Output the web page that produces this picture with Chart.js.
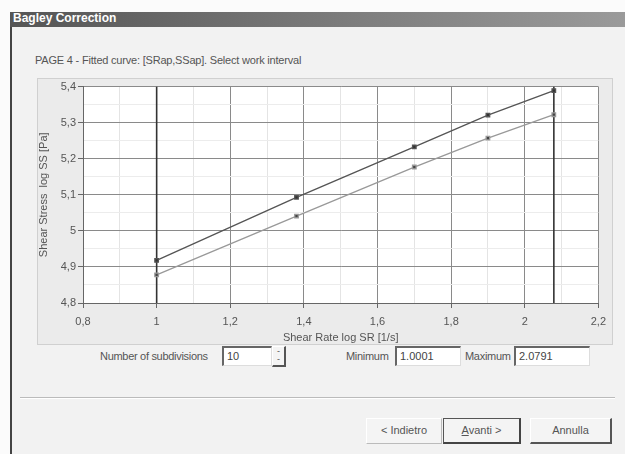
<!DOCTYPE html>
<html>
<head>
<meta charset="utf-8">
<script src="https://cdn.jsdelivr.net/npm/chart.js@4/dist/chart.umd.min.js"></script>
<style>
  body { margin: 0; width: 625px; height: 454px; background: #fbfbfb; font-family: "Liberation Sans", Arial, sans-serif; overflow: hidden; }
  #win { position: absolute; left: 10px; top: 12px; width: 615px; height: 442px; background: #f2f2f2; border-left: 2px solid #444; }
  #title { position: absolute; left: 10px; top: 12px; width: 615px; height: 15px; background: linear-gradient(to right, #555, #808080 60%, #9a9a9a); color: #fff; font-weight: bold; font-size: 12px; line-height: 12px; padding-left: 3px; box-sizing: border-box; }
  #page { position: absolute; left: 35px; top: 54px; font-size: 11px; color: #555; letter-spacing: -0.2px; }
  #panel { position: absolute; left: 37px; top: 78px; width: 576px; height: 267px; background: #ebebeb; border: 1px solid #d0d0d0; box-sizing: border-box; }
  #chart { position: absolute; left: 37px; top: 78px; }
  .lbl { position: absolute; font-size: 11px; color: #555; letter-spacing: -0.3px; }
  .inp { position: absolute; height: 20px; background: #fff; border-top: 2px solid #666; border-left: 2px solid #666; border-right: 1px solid #ddd; border-bottom: 1px solid #ddd; box-sizing: border-box; font-size: 11px; color: #444; padding: 2px 3px; }
  .btn { position: absolute; height: 26px; background: #f4f4f4; border-right: 2px solid #555; border-bottom: 2px solid #555; border-top: 1px solid #fff; border-left: 1px solid #fff; box-sizing: border-box; font-size: 11px; color: #555; text-align: center; line-height: 22px; }
  #sep { position: absolute; left: 20px; top: 397px; width: 595px; height: 0; border-top: 1px solid #bbb; border-bottom: 1px solid #fff; }
</style>
</head>
<body>
<div id="win"></div>
<div id="title">Bagley Correction</div>
<div id="page">PAGE 4 - Fitted curve: [SRap,SSap]. Select work interval</div>
<div id="panel"></div>
<canvas id="chart" width="576" height="267"></canvas>

<div class="lbl" style="left:100px;top:350px">Number of subdivisions</div>
<div class="inp" style="left:222px;top:346px;width:50px">10</div>
<div class="btn" style="left:272px;top:346px;width:14px;height:21px;line-height:8px;font-size:9px">-<br>-</div>
<div class="lbl" style="left:346px;top:350px">Minimum</div>
<div class="inp" id="minBox" style="left:395px;top:346px;width:66px"></div>
<div class="lbl" style="left:465px;top:350px">Maximum</div>
<div class="inp" id="maxBox" style="left:514px;top:346px;width:76px"></div>
<div id="sep"></div>
<div class="btn" style="left:366px;top:418px;width:76px;border-right:1px solid #bbb;border-bottom:1px solid #bbb">&lt; Indietro</div>
<div class="btn" style="left:443px;top:418px;width:78px;border:1px solid #555;border-right:2px solid #444;border-bottom:2px solid #444"><u>A</u>vanti &gt;</div>
<div class="btn" style="left:530px;top:418px;width:82px">Annulla</div>

<script>
// dati
const shearRate = [1.0, 1.38, 1.70, 1.90, 2.079];
const stressUpper = [4.918, 5.093, 5.233, 5.321, 5.389];
const stressLower = [4.878, 5.041, 5.177, 5.257, 5.322];
const intervalMin = 1.0001;
const intervalMax = 2.0791;
const xTicks = [0.8, 1, 1.2, 1.4, 1.6, 1.8, 2, 2.2];
const yTicks = [4.8, 4.9, 5, 5.1, 5.2, 5.3, 5.4];

document.getElementById('minBox').textContent = intervalMin.toFixed(4);
document.getElementById('maxBox').textContent = intervalMax.toFixed(4);

const toPts = (xs, ys) => xs.map((x, i) => ({ x: x, y: ys[i] }));
const isMajor = (v, list) => list.some(t => Math.abs(t - v) < 1e-6);
const comma = v => String(Math.round(v * 10) / 10).replace('.', ',');

new Chart(document.getElementById('chart'), {
    type: 'scatter',
    data: {
        datasets: [
            {
                data: toPts(shearRate, stressUpper),
                showLine: true,
                borderColor: '#555',
                borderWidth: 1.3,
                backgroundColor: '#333',
                pointStyle: 'rect',
                pointRadius: 2.5
            },
            {
                data: toPts(shearRate, stressLower),
                showLine: true,
                borderColor: '#999',
                borderWidth: 1.3,
                backgroundColor: '#444',
                pointStyle: 'rect',
                pointRadius: 2.5
            },
            {
                // limiti intervallo di lavoro
                data: [{ x: intervalMin, y: yTicks[0] }, { x: intervalMin, y: yTicks[yTicks.length - 1] }],
                showLine: true,
                borderColor: '#333',
                borderWidth: 1.6,
                pointRadius: 0
            },
            {
                data: [{ x: intervalMax, y: yTicks[0] }, { x: intervalMax, y: yTicks[yTicks.length - 1] }],
                showLine: true,
                borderColor: '#333',
                borderWidth: 1.6,
                pointRadius: 0
            }
        ]
    },
    options: {
        responsive: false,
        animation: false,
        layout: { padding: { top: 8, right: 14, left: 0, bottom: 0 } },
        plugins: { legend: { display: false }, tooltip: { enabled: false } },
        scales: {
            x: {
                type: 'linear',
                min: xTicks[0],
                max: xTicks[xTicks.length - 1],
                afterBuildTicks: s => { s.ticks = []; for (let v = 8; v <= 22; v++) s.ticks.push({ value: v / 10 }); },
                afterFit: s => { s.height = 42; },
                border: { color: '#666', width: 1 },
                grid: {
                    color: c => isMajor(c.tick.value, xTicks) ? '#8a8a8a' : '#e4e4e4',
                    tickColor: c => isMajor(c.tick.value, xTicks) ? '#666' : 'rgba(0,0,0,0)',
                    tickLength: 5
                },
                ticks: {
                    autoSkip: false,
                    maxRotation: 0,
                    padding: 7,
                    color: '#555',
                    font: { family: 'Liberation Sans', size: 11 },
                    callback: v => isMajor(v, xTicks) ? comma(v) : ''
                },
                title: {
                    display: true,
                    text: 'Shear Rate log SR [1/s]',
                    color: '#555',
                    font: { family: 'Liberation Sans', size: 11 },
                    padding: 0
                }
            },
            y: {
                type: 'linear',
                min: yTicks[0],
                max: yTicks[yTicks.length - 1],
                afterBuildTicks: s => { s.ticks = []; for (let v = 96; v <= 108; v++) s.ticks.push({ value: v / 20 }); },
                afterFit: s => { s.width = 46; },
                border: { color: '#666', width: 1 },
                grid: {
                    color: c => isMajor(c.tick.value, yTicks) ? '#8a8a8a' : '#ececec',
                    tickColor: c => isMajor(c.tick.value, yTicks) ? '#666' : 'rgba(0,0,0,0)',
                    tickLength: 5
                },
                ticks: {
                    autoSkip: false,
                    padding: 2,
                    color: '#555',
                    font: { family: 'Liberation Sans', size: 11 },
                    callback: v => isMajor(v, yTicks) ? comma(v) : ''
                },
                title: {
                    display: true,
                    text: 'Shear Stress  log SS [Pa]',
                    color: '#555',
                    font: { family: 'Liberation Sans', size: 11 },
                    padding: { top: 0, bottom: 0 }
                }
            }
        }
    },
    plugins: [{
        id: 'plotBg',
        beforeDraw: ch => {
            const a = ch.chartArea, c = ch.ctx;
            c.save();
            c.fillStyle = '#fff';
            c.fillRect(a.left, a.top, a.right - a.left, a.bottom - a.top);
            c.restore();
        }
    }]
});
</script>
</body>
</html>
